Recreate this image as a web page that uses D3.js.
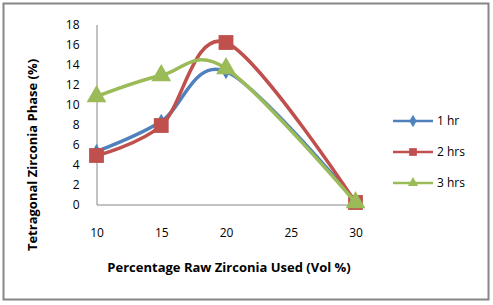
<!DOCTYPE html>
<html>
<head>
<meta charset="utf-8">
<script src="https://cdn.jsdelivr.net/npm/d3@7"></script>
<style>
  body { margin: 0; background: #fff; }
  svg text { font-family: "Open Sans", Lato, sans-serif; }
</style>
</head>
<body>
<div id="chart"></div>
<script>
// data
const xValues = [10, 15, 20, 30];
const oneHr = [5.3, 8.3, 13.3, 0.3];
const twoHrs = [4.9, 7.9, 16.2, 0.2];
const threeHrs = [10.8, 12.9, 13.6, 0.2];
const seriesNames = ["1 hr", "2 hrs", "3 hrs"];
const xTicks = [10, 15, 20, 25, 30];
const yTicks = [0, 2, 4, 6, 8, 10, 12, 14, 16, 18];

const w = 493, h = 305;
const colors = ["#4F81BD", "#C0504D", "#9BBB59"];
const shapes = [d3.symbolDiamond, d3.symbolSquare, d3.symbolTriangle];
const sizes = [70, 220, 170];

const svg = d3.select("#chart").append("svg")
  .attr("width", w)
  .attr("height", h);

// outer frame
svg.append("rect")
  .attr("x", 3.5).attr("y", 3.5)
  .attr("width", 485).attr("height", 296)
  .attr("fill", "#fff")
  .attr("stroke", "#868686")
  .attr("stroke-width", 2);

const xScale = d3.scaleLinear().domain([10, 30]).range([96.5, 355.5]);
const yScale = d3.scaleLinear().domain([0, 18]).range([204.5, 24.5]);

// axes (no tick marks, gray lines)
const yAxis = d3.axisLeft(yScale).tickValues(yTicks).tickSize(0).tickPadding(17);
const gy = svg.append("g").attr("transform", "translate(96.5,0)").call(yAxis);
gy.select(".domain").attr("stroke", "#868686");
gy.selectAll("text").style("font-size", "12px").attr("fill", "#000");

const xAxis = d3.axisBottom(xScale).tickValues(xTicks).tickSize(0).tickPadding(24);
const gx = svg.append("g").attr("transform", "translate(0,204.5)").call(xAxis);
gx.select(".domain").attr("stroke", "#868686");
gx.selectAll("text").style("font-size", "12px").attr("fill", "#000");

// series
const allSeries = [oneHr, twoHrs, threeHrs];
const line = d3.line()
  .x(d => xScale(d[0]))
  .y(d => yScale(d[1]))
  .curve(d3.curveCardinal.tension(0));

allSeries.forEach((vals, i) => {
  const pts = xValues.map((x, j) => [x, vals[j]]);
  svg.append("path")
    .attr("d", line(pts))
    .attr("fill", "none")
    .attr("stroke", colors[i])
    .attr("stroke-width", 3.5)
    .attr("stroke-linejoin", "round");
  svg.append("g").selectAll("path")
    .data(pts)
    .enter()
    .append("path")
    .attr("transform", d => "translate(" + xScale(d[0]) + "," + yScale(d[1]) + ")")
    .attr("d", d3.symbol().type(shapes[i]).size(sizes[i]))
    .attr("fill", colors[i]);
});

// axis titles
svg.append("text")
  .attr("transform", "translate(37,155) rotate(-90)")
  .attr("text-anchor", "middle")
  .style("font-size", "13px")
  .style("font-weight", "bold")
  .text("Tetragonal Zirconia Phase (%)");

svg.append("text")
  .attr("x", 229)
  .attr("y", 272)
  .attr("text-anchor", "middle")
  .style("font-size", "13px")
  .style("font-weight", "bold")
  .text("Percentage Raw Zirconia Used (Vol %)");

// legend
const legend = svg.append("g");
seriesNames.forEach((name, i) => {
  const ly = 121 + i * 31;
  legend.append("line")
    .attr("x1", 393).attr("x2", 433)
    .attr("y1", ly).attr("y2", ly)
    .attr("stroke", colors[i])
    .attr("stroke-width", 2.5);
  legend.append("path")
    .attr("transform", "translate(413," + ly + ")")
    .attr("d", d3.symbol().type(shapes[i]).size(i === 1 ? 60 : 45))
    .attr("fill", colors[i]);
  legend.append("text")
    .attr("x", 437)
    .attr("y", ly + 4)
    .style("font-size", "12px")
    .text(name);
});
</script>
</body>
</html>
